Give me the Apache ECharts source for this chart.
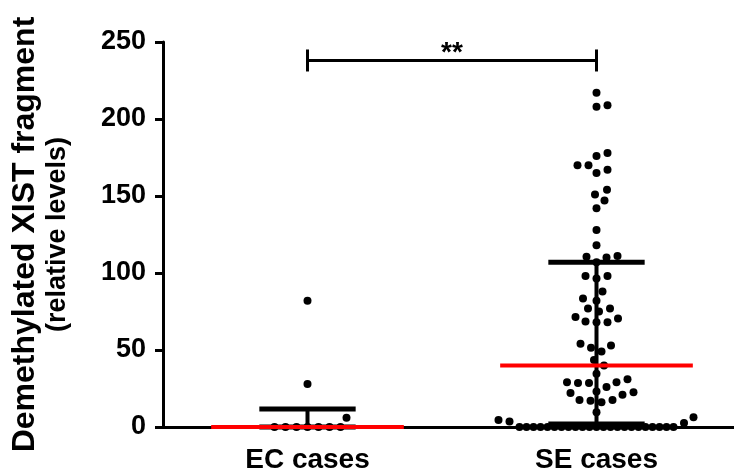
<!DOCTYPE html>
<html>
<head>
    <meta charset="utf-8">
    <title>Demethylated XIST fragment</title>
    <script src="https://cdn.jsdelivr.net/npm/echarts@6/dist/echarts.min.js"></script>
</head>
<body style="margin:0">
    <div id="main" style="width: 734px;height:474px;"></div>
    <script type="text/javascript">
        // values
        var categories = ['EC cases', 'SE cases'];
        var ecValues = [82, 28, 6, 0, 0, 0, 0, 0, 0, 0];
        var seValues = [217, 209, 208, 178, 176, 170, 170, 167, 165, 154, 151, 147, 142, 128,
            118, 111, 110.5, 110, 107, 98, 98, 96.5, 88, 83.5, 82, 77, 77, 75, 71.5, 70.5, 68.5,
            68, 68, 54, 53, 51.5, 49, 43.5, 40, 34.5, 31, 29, 29, 28.5, 28.5, 26, 23, 22.5, 22,
            21, 17.5, 17.5, 17, 16, 9.5, 6.7, 6.3, 4.5, 3.5, 2.6,
            0, 0, 0, 0, 0, 0, 0, 0, 0, 0, 0, 0, 0, 0, 0, 0, 0, 0, 0, 0, 0, 0, 0];
        // median with interquartile range
        var medians = [0, 40];
        var q1 = [0, 2];
        var q3 = [11.7, 107];
        // significance bracket
        var sigFrom = 0, sigTo = 1, sigLevel = 238, sigText = '**';

        var font = 'Liberation Sans, Arial, sans-serif';
        var dom = document.getElementById('main');
        var myChart = echarts.init(dom);

        var option = {
            animation: false,
            grid: { left: 163, top: 42, bottom: 47, width: 578, outerBoundsMode: 'none' },
            xAxis: [{
                type: 'category',
                data: categories,
                axisLine: { lineStyle: { color: '#000', width: 3 } },
                axisTick: { alignWithLabel: true, length: 10, lineStyle: { color: '#000', width: 3 } },
                axisLabel: { color: '#000', fontSize: 28, fontWeight: 'bold', fontFamily: font, margin: 19 }
            }, {
                type: 'value', min: 0, max: 2, show: false
            }],
            yAxis: {
                type: 'value',
                min: 0, max: 250, interval: 50,
                name: '{a|Demethylated XIST fragment}\n{b|(relative levels)}',
                nameLocation: 'middle',
                nameRotate: 90,
                nameGap: 89,
                nameTextStyle: {
                    color: '#000', fontWeight: 'bold', fontFamily: font,
                    rich: {
                        a: { fontSize: 32, fontWeight: 'bold', fontFamily: font, lineHeight: 34, color: '#000' },
                        b: { fontSize: 27, fontWeight: 'bold', fontFamily: font, lineHeight: 32, color: '#000' }
                    }
                },
                axisLine: { show: true, lineStyle: { color: '#000', width: 3 } },
                axisTick: { show: true, length: 8, lineStyle: { color: '#000', width: 3 } },
                axisLabel: { color: '#000', fontSize: 27, fontWeight: 'bold', fontFamily: font, margin: 17 },
                splitLine: { show: false }
            },
            series: []
        };
        myChart.setOption(option);

        // beeswarm layout in pixel space
        var unitX = myChart.convertToPixel({ xAxisIndex: 1 }, 1) - myChart.convertToPixel({ xAxisIndex: 1 }, 0);
        function yPx(v) { return myChart.convertToPixel({ yAxisIndex: 0 }, v); }

        function swarm(values, center) {
            var collide = 11, maxHalf = 77;
            var counts = {};
            values.forEach(function (v) { counts[v] = (counts[v] || 0) + 1; });
            var placed = [];
            // tie rows, compressed to fit
            Object.keys(counts).forEach(function (k) {
                var n = counts[k];
                if (n < 3) return;
                var s = Math.min(collide, 2 * maxHalf / (n - 1));
                for (var i = 0; i < n; i++) {
                    placed.push({ v: +k, x: (i - (n - 1) / 2) * s, y: yPx(+k) });
                }
            });
            var rest = values.filter(function (v) { return counts[v] < 3; }).sort(function (a, b) { return a - b; });
            rest.forEach(function (v) {
                var y = yPx(v);
                for (var k = 0; k < 400; k++) {
                    var off = (k % 2 ? 1 : -1) * Math.ceil(k / 2) * 0.5;
                    var ok = placed.every(function (p) {
                        var dx = p.x - off, dy = p.y - y;
                        return dx * dx + dy * dy >= collide * collide;
                    });
                    if (ok) { placed.push({ v: v, x: off, y: y }); break; }
                }
            });
            return placed.map(function (p) { return [center + p.x / unitX, p.v]; });
        }

        var stats = categories.map(function (c, i) { return [i + 0.5, medians[i], q1[i], q3[i]]; });

        myChart.setOption({
            series: [{
                type: 'scatter',
                xAxisIndex: 1,
                symbolSize: 8,
                itemStyle: { color: '#000', opacity: 1 },
                data: swarm(ecValues, 0.5)
            }, {
                type: 'scatter',
                xAxisIndex: 1,
                symbolSize: 8,
                itemStyle: { color: '#000', opacity: 1 },
                data: swarm(seValues, 1.5)
            }, {
                type: 'custom',
                xAxisIndex: 1,
                z: 5,
                clip: false,
                data: stats,
                renderItem: function (params, api) {
                    var x = api.value(0);
                    var m = api.coord([x, api.value(1)]);
                    var lo = api.coord([x, api.value(2)]);
                    var hi = api.coord([x, api.value(3)]);
                    var mh = api.size([1 / 3, 0])[0];
                    var ch = api.size([1 / 6, 0])[0];
                    var black = { stroke: '#000', lineWidth: 4 };
                    return {
                        type: 'group',
                        children: [
                            { type: 'line', shape: { x1: lo[0], y1: lo[1], x2: hi[0], y2: hi[1] }, style: black },
                            { type: 'line', shape: { x1: hi[0] - ch, y1: hi[1], x2: hi[0] + ch, y2: hi[1] }, style: { stroke: '#000', lineWidth: 5 } },
                            { type: 'line', shape: { x1: lo[0] - ch, y1: lo[1], x2: lo[0] + ch, y2: lo[1] }, style: { stroke: '#000', lineWidth: 5 } },
                            { type: 'line', shape: { x1: m[0] - mh, y1: m[1], x2: m[0] + mh, y2: m[1] }, style: { stroke: '#ff0000', lineWidth: 4 } }
                        ]
                    };
                }
            }, {
                type: 'custom',
                xAxisIndex: 1,
                z: 5,
                clip: false,
                data: [[sigFrom + 0.5, sigTo + 0.5, sigLevel]],
                renderItem: function (params, api) {
                    var a = api.coord([api.value(0), api.value(2)]);
                    var b = api.coord([api.value(1), api.value(2)]);
                    var t = 11;
                    var st = { stroke: '#000', lineWidth: 3 };
                    return {
                        type: 'group',
                        children: [
                            { type: 'line', shape: { x1: a[0], y1: a[1], x2: b[0], y2: b[1] }, style: st },
                            { type: 'line', shape: { x1: a[0], y1: a[1] - t, x2: a[0], y2: a[1] + t }, style: st },
                            { type: 'line', shape: { x1: b[0], y1: b[1] - t, x2: b[0], y2: b[1] + t }, style: st },
                            { type: 'text', x: (a[0] + b[0]) / 2, y: a[1] - 7,
                              style: { text: sigText, fill: '#000', font: 'bold 28px ' + font, align: 'center', verticalAlign: 'middle' } }
                        ]
                    };
                }
            }]
        });
    </script>
</body>
</html>
